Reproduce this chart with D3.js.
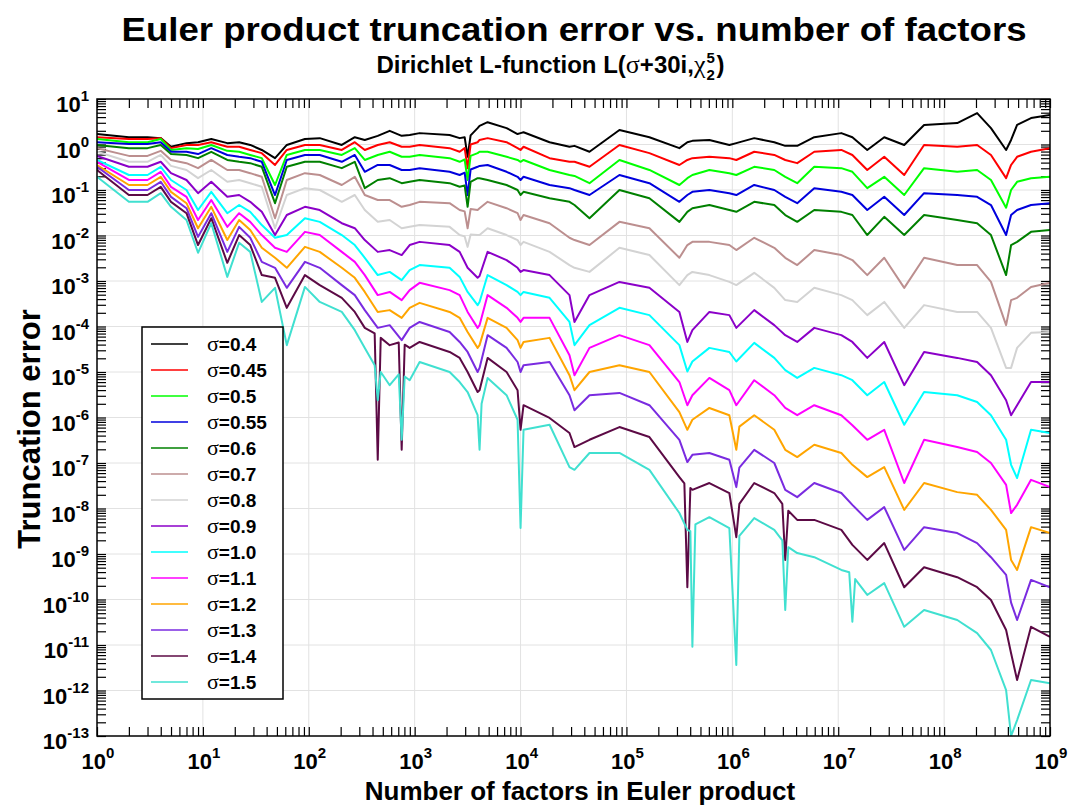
<!DOCTYPE html>
<html><head><meta charset="utf-8">
<script src="https://cdn.jsdelivr.net/npm/d3@7"></script>
<style>body{margin:0;background:#fff}svg{display:block}</style>
</head><body>
<svg id="c" width="1068" height="805"></svg>
<script>
// ---------- data ----------
const nFactors = [1,2,3,4,5,7,9,12,17,22, 28,36,48,62,92,127,205,272,338,448,
 581,754,897,1114,2138,2660,3162,3930,4100,4885, 7380,9370,10000,10670,18790,28980,32300,44770,85900,164800,
 316200,376000,419500,607000,937000,1090000,1610000,2490000,3160000,4100000,
 5940000,10700000,13600000,18800000,27200000,42000000,64700000,133000000,205000000,277000000,
 385000000,429000000,489000000,662000000,1000000000];

const sigmaLabels = ["0.4","0.45","0.5","0.55","0.6","0.7","0.8","0.9","1.0","1.1","1.2","1.3","1.4","1.5"];
const seriesColors = ["#000000","#ff0000","#00ff00","#0000dd","#008000","#bc8f8f","#d3d3d3","#8b00c8","#00ffff","#ff00ff","#ffa500","#7a2be0","#5c0a45","#40e0d0"];

// log10 of truncation error at nFactors
const err040 = [0.23,0.16,0.16,0.14,-0.05,0.03,0.05,0.12,0.03,0.05, -0.01,-0.12,-0.30,-0.01,0.12,0.14,-0.01,0.16,0.10,0.19, 0.30,0.19,0.21,0.25,0.21,0.14,-0.27,0.36,0.41,0.49, 0.36,0.23,0.25,0.27,0.05,-0.05,-0.03,-0.16,0.32,0.16, -0.08,0.05,0.08,0.10,-0.01,0.03,0.14,0.05,-0.03,-0.03, 0.16,0.25,0.16,-0.12,0.16,-0.01,0.43,0.47,0.69,0.36, -0.12,0.10,0.43,0.58,0.65];
const err045 = [0.16,0.12,0.12,0.14,-0.08,-0.01,-0.01,0.05,-0.05,-0.05, -0.12,-0.19,-0.45,-0.12,-0.01,-0.01,-0.12,0.05,-0.12,-0.01, 0.05,-0.05,-0.05,-0.01,-0.08,-0.16,-0.52,0.05,0.10,0.14, 0.05,-0.08,-0.12,-0.05,-0.30,-0.38,-0.38,-0.49,-0.01,-0.19, -0.45,-0.34,-0.30,-0.27,-0.30,-0.34,-0.16,-0.23,-0.34,-0.41, -0.16,-0.12,-0.23,-0.56,-0.27,-0.67,-0.01,-0.05,-0.01,-0.23, -0.74,-0.45,-0.27,-0.16,-0.08];
const err050 = [0.12,0.05,0.05,0.12,-0.12,-0.08,-0.10,-0.01,-0.14,-0.16, -0.23,-0.30,-0.89,-0.23,-0.12,-0.12,-0.23,-0.08,-0.34,-0.23, -0.16,-0.27,-0.27,-0.23,-0.30,-0.38,-0.78,-0.19,-0.16,-0.16, -0.27,-0.34,-0.38,-0.34,-0.56,-0.67,-0.69,-0.85,-0.34,-0.56, -0.89,-0.74,-0.67,-0.56,-0.63,-0.67,-0.49,-0.56,-0.71,-0.85, -0.49,-0.52,-0.60,-0.96,-0.71,-1.11,-0.52,-0.60,-0.56,-0.78, -1.39,-1.00,-0.82,-0.74,-0.71];
const err055 = [0.05,0.01,0.01,0.05,-0.16,-0.16,-0.21,-0.08,-0.23,-0.27, -0.30,-0.38,-1.11,-0.34,-0.23,-0.23,-0.38,-0.23,-0.60,-0.45, -0.45,-0.56,-0.56,-0.52,-0.60,-0.67,-1.11,-0.49,-0.47,-0.45, -0.60,-0.71,-0.78,-0.71,-0.89,-0.96,-1.00,-1.11,-0.67,-0.85, -1.26,-1.11,-1.04,-1.00,-1.07,-1.11,-0.89,-1.00,-1.15,-1.29, -0.96,-1.04,-1.11,-1.44,-1.15,-1.55,-1.07,-1.11,-1.15,-1.33, -1.99,-1.55,-1.44,-1.33,-1.29];
const err060 = [-0.01,-0.08,-0.08,-0.01,-0.21,-0.23,-0.30,-0.16,-0.34,-0.38, -0.41,-0.49,-1.29,-0.49,-0.38,-0.38,-0.52,-0.38,-0.96,-0.78, -0.74,-0.85,-0.82,-0.78,-0.85,-0.93,-1.37,-0.74,-0.74,-0.78, -0.89,-1.00,-1.11,-1.04,-1.18,-1.26,-1.33,-1.62,-1.00,-1.18, -1.70,-1.48,-1.40,-1.33,-1.44,-1.48,-1.26,-1.33,-1.55,-1.70, -1.44,-1.48,-1.55,-1.99,-1.59,-1.99,-1.55,-1.66,-1.73,-1.99, -2.87,-2.21,-2.14,-1.92,-1.88];
const err070 = [-0.08,-0.25,-0.25,-0.14,-0.34,-0.41,-0.52,-0.34,-0.56,-0.56, -0.63,-0.71,-1.62,-0.78,-0.63,-0.67,-0.89,-0.71,-1.11,-1.22, -1.22,-1.37,-1.33,-1.26,-1.29,-1.44,-1.84,-1.44,-1.40,-1.26, -1.40,-1.51,-1.66,-1.55,-1.73,-2.05,-2.10,-2.21,-1.70,-1.84, -2.49,-2.21,-2.14,-2.14,-2.21,-2.32,-2.05,-2.27,-2.49,-2.65, -2.32,-2.43,-2.54,-2.87,-2.49,-3.15,-2.49,-2.65,-2.65,-3.02, -3.97,-3.42,-3.37,-3.13,-3.04];
const err080 = [-0.16,-0.38,-0.38,-0.23,-0.47,-0.56,-0.74,-0.56,-0.82,-0.78, -0.85,-0.93,-1.84,-1.11,-0.96,-1.00,-1.26,-1.11,-1.44,-1.70, -1.66,-1.84,-1.81,-1.77,-1.81,-1.99,-2.25,-1.99,-1.99,-1.84, -1.99,-2.10,-2.21,-2.14,-2.36,-2.65,-2.71,-2.80,-2.27,-2.43, -3.09,-2.87,-2.80,-2.87,-3.02,-3.09,-2.82,-3.15,-3.42,-3.46, -3.15,-3.31,-3.42,-3.75,-3.46,-4.03,-3.53,-3.68,-3.68,-4.03, -4.91,-4.91,-4.47,-4.14,-4.12];
const err090 = [-0.25,-0.49,-0.49,-0.38,-0.63,-0.78,-1.07,-0.82,-1.15,-1.11, -1.26,-1.48,-1.99,-1.55,-1.37,-1.44,-1.73,-1.84,-2.10,-2.36, -2.32,-2.43,-2.21,-2.14,-2.21,-2.36,-2.71,-2.93,-2.89,-2.36, -2.54,-2.71,-2.80,-2.76,-2.87,-3.31,-3.90,-3.31,-3.02,-3.15, -3.68,-4.34,-4.08,-3.68,-3.75,-4.03,-3.64,-3.97,-4.19,-4.34, -4.03,-4.19,-4.34,-4.69,-4.34,-5.29,-4.56,-4.69,-4.78,-5.07, -5.62,-5.95,-5.73,-5.22,-5.22];
const err100 = [-0.34,-0.67,-0.67,-0.49,-0.78,-1.00,-1.44,-1.04,-1.51,-1.33, -1.48,-1.77,-2.05,-1.99,-1.62,-1.70,-1.99,-2.21,-2.49,-2.87, -2.80,-2.98,-2.76,-2.65,-2.71,-2.91,-3.24,-3.53,-3.46,-2.87, -3.09,-3.24,-3.31,-3.24,-3.37,-3.90,-4.41,-3.97,-3.59,-3.75, -4.41,-4.99,-4.77,-4.47,-4.56,-4.77,-4.36,-4.69,-4.96,-5.13, -4.91,-5.07,-5.18,-5.51,-5.22,-6.16,-5.44,-5.51,-5.66,-5.95, -6.49,-7.04,-7.33,-6.27,-6.34];
const err110 = [-0.38,-0.78,-0.78,-0.60,-0.93,-1.15,-1.66,-1.22,-1.81,-1.51, -1.70,-1.99,-2.27,-2.36,-1.92,-1.99,-2.36,-2.58,-2.87,-3.31, -3.24,-3.42,-3.20,-3.04,-3.20,-3.31,-3.68,-4.03,-3.97,-3.31, -3.59,-3.81,-3.90,-3.81,-3.81,-4.63,-5.07,-4.47,-4.19,-4.41, -5.22,-5.73,-5.51,-5.13,-5.40,-5.73,-5.18,-5.51,-5.79,-5.95, -5.73,-5.95,-6.17,-6.49,-6.27,-7.44,-6.49,-6.65,-6.76,-7.00, -7.48,-8.10,-7.92,-7.37,-7.53];
const err120 = [-0.45,-0.89,-0.89,-0.71,-1.04,-1.29,-1.84,-1.37,-2.10,-1.66, -1.88,-2.27,-2.49,-2.71,-2.25,-2.36,-2.71,-2.93,-3.24,-3.68, -3.64,-3.81,-3.59,-3.48,-3.68,-3.81,-4.12,-4.47,-4.41,-3.81, -4.03,-4.30,-4.47,-4.34,-4.25,-5.07,-5.40,-5.00,-4.85,-5.00, -5.88,-6.27,-6.05,-5.79,-5.95,-6.71,-5.95,-6.27,-6.71,-6.87, -6.60,-6.78,-7.04,-7.31,-7.09,-8.03,-7.44,-7.64,-7.70,-8.03, -8.47,-9.13,-9.35,-8.41,-8.54];
const err130 = [-0.49,-1.00,-1.00,-0.82,-1.15,-1.40,-2.03,-1.51,-2.36,-1.81, -2.05,-2.58,-2.71,-3.15,-2.58,-2.71,-3.09,-3.31,-3.64,-4.03, -3.97,-4.30,-4.03,-3.90,-4.12,-4.34,-4.56,-5.00,-4.91,-4.19, -4.47,-4.78,-5.00,-4.85,-4.78,-5.51,-5.84,-5.51,-5.46,-5.73, -6.49,-6.98,-6.82,-6.78,-6.93,-7.53,-6.71,-7.00,-7.59,-7.75, -7.44,-7.66,-7.92,-8.25,-7.97,-8.91,-8.41,-8.54,-8.76,-9.07, -9.46,-10.07,-10.45,-9.57,-9.73];
const err140 = [-0.56,-1.11,-1.11,-0.93,-1.26,-1.51,-2.21,-1.62,-2.60,-1.99, -2.21,-2.87,-2.93,-3.59,-2.87,-3.09,-3.37,-3.68,-4.03,-6.93, -4.41,-6.71,-4.47,-4.34,-4.56,-4.69,-5.00,-5.44,-5.40,-4.69, -5.00,-5.40,-6.27,-5.73,-6.01,-6.34,-6.65,-6.49,-6.21,-6.43, -7.31,-9.73,-7.59,-7.44,-7.66,-8.63,-7.44,-7.66,-9.13,-8.25, -8.25,-8.47,-8.80,-9.13,-8.76,-9.73,-9.29,-9.51,-9.73,-10.01, -10.67,-11.18,-11.77,-10.60,-10.82];
const err150 = [-0.71,-1.26,-1.26,-1.07,-1.37,-1.66,-2.38,-1.73,-2.91,-2.16, -2.36,-3.46,-3.15,-4.41,-3.13,-3.46,-3.68,-4.08,-4.47,-5.62, -5.29,-6.49,-5.18,-4.78,-5.00,-5.22,-5.44,-5.95,-6.71,-5.13, -5.51,-6.05,-8.43,-6.27,-6.16,-7.09,-7.15,-6.78,-6.78,-7.15, -8.10,-8.47,-11.04,-8.19,-8.43,-11.44,-8.21,-8.47,-10.23,-8.98, -9.07,-9.35,-10.49,-9.90,-9.64,-10.60,-10.23,-10.45,-10.74,-11.11, -11.99,-13.0,-12.65,-11.77,-11.84];

// extra [nFactors, log10 error] readings on both sides of narrow dips/spikes
const extra040 = [[2965,0.16],[3376,0.20]];
const extra045 = [[2965,-0.08],[3376,0.00]];
const extra050 = [[2965,-0.33],[3376,-0.25]];
const extra055 = [[2965,-0.62],[3376,-0.55]];
const extra060 = [[2965,-0.90],[3376,-0.82]];
const extra070 = [[2965,-1.47],[3376,-1.42]];
const extra080 = [[2965,-2.02],[3376,-1.98]];
const extra090 = [];
const extra100 = [];
const extra110 = [];
const extra120 = [[1165000,-6.20]];
const extra130 = [[1165000,-7.10]];
const extra140 = [[419,-4.15],[478,-4.25],[707,-4.35],[805,-4.40],[352400,-7.45],[401500,-7.55],[1165000,-7.90],[2965000,-7.90],[3376000,-8.05]];
const extra150 = [[419,-4.85],[478,-5.00],[707,-5.05],[805,-5.10],[4285,-5.70],[401500,-8.50],[447700,-8.35],[1165000,-8.60],[2965000,-8.70],[3376000,-8.85],[12700000,-9.40],[14460000,-9.55]];

const seriesValues = [err040,err045,err050,err055,err060,err070,err080,err090,err100,err110,err120,err130,err140,err150];
const seriesExtra = [extra040,extra045,extra050,extra055,extra060,extra070,extra080,extra090,extra100,extra110,extra120,extra130,extra140,extra150];

const xTickExponents = [0,1,2,3,4,5,6,7,8,9];
const yTickExponents = [1,0,-1,-2,-3,-4,-5,-6,-7,-8,-9,-10,-11,-12,-13];

// ---------- drawing ----------
const FONT = "'Liberation Sans', Arial, Helvetica, sans-serif";
const SERIF = "'Liberation Serif', 'DejaVu Serif', serif";
const svg = d3.select("#c");
const L = 97, R = 1050, T = 99, B = 736;
const x = d3.scaleLog().domain([1, 1e9]).range([L, R]);
const y = d3.scaleLog().domain([1e-13, 10]).range([B, T]);

svg.append("rect").attr("width",1068).attr("height",805).attr("fill","#fff");

// grid
const g = svg.append("g");
g.selectAll(".gx").data(xTickExponents.slice(1,-1)).join("line")
  .attr("x1",d=>x(10**d)).attr("x2",d=>x(10**d)).attr("y1",T).attr("y2",B)
  .attr("stroke","#e2e2e2").attr("stroke-width",1);
g.selectAll(".gy").data(yTickExponents.slice(1,-1)).join("line")
  .attr("y1",d=>y(10**d)).attr("y2",d=>y(10**d)).attr("x1",L).attr("x2",R)
  .attr("stroke","#e2e2e2").attr("stroke-width",1);

// ticks (all four sides, inward)
function minorTicks(lo, hi){ const t=[]; for(let e=lo;e<hi;e++){ for(let k=1;k<=9;k++) t.push(k*10**e);} t.push(10**hi); return t; }
const xt = minorTicks(0,9), yt = minorTicks(-13,1);
const TL = 9;
svg.append("g").attr("transform",`translate(0,${B})`).call(d3.axisBottom(x).tickValues(xt).tickSize(-TL).tickFormat("")).call(s=>s.select(".domain").remove());
svg.append("g").attr("transform",`translate(0,${T})`).call(d3.axisTop(x).tickValues(xt).tickSize(-TL).tickFormat("")).call(s=>s.select(".domain").remove());
svg.append("g").attr("transform",`translate(${L},0)`).call(d3.axisLeft(y).tickValues(yt).tickSize(-TL).tickFormat("")).call(s=>s.select(".domain").remove());
svg.append("g").attr("transform",`translate(${R},0)`).call(d3.axisRight(y).tickValues(yt).tickSize(-TL).tickFormat("")).call(s=>s.select(".domain").remove());
svg.selectAll(".tick line").attr("stroke","#000").attr("stroke-width",1.2);

// series
svg.append("clipPath").attr("id","clip").append("rect").attr("x",L).attr("y",T).attr("width",R-L).attr("height",B-T);
const line = d3.line().x(d=>x(d[0])).y(d=>y(10**d[1]));
const lg = svg.append("g").attr("clip-path","url(#clip)");
seriesValues.forEach((vals,i)=>{
  const pts = nFactors.map((n,j)=>[n, vals[j]]).concat(seriesExtra[i]).sort((a,b)=>a[0]-b[0]);
  lg.append("path").attr("d",line(pts)).attr("fill","none")
    .attr("stroke",seriesColors[i]).attr("stroke-width",2).attr("stroke-linejoin","round");
});

// frame
svg.append("rect").attr("x",L).attr("y",T).attr("width",R-L).attr("height",B-T)
  .attr("fill","none").attr("stroke","#000").attr("stroke-width",1.5);

// tick labels
const yl = svg.append("g").attr("font-family",FONT).attr("font-weight","bold");
yTickExponents.forEach(e=>{
  const t = yl.append("text").attr("x",89).attr("y",y(10**e)+13).attr("text-anchor","end").attr("font-size",22);
  t.append("tspan").text("10");
  t.append("tspan").attr("font-size",15).attr("dy",-11).text(e<0?"-"+(-e):String(e));
});
xTickExponents.forEach(e=>{
  const t = yl.append("text").attr("x",x(10**e)+1).attr("y",769).attr("text-anchor","middle").attr("font-size",22);
  t.append("tspan").text("10");
  t.append("tspan").attr("font-size",15).attr("dy",-11).text(String(e));
});

// titles
const tt = svg.append("g").attr("font-family",FONT).attr("font-weight","bold").attr("fill","#000");
tt.append("text").attr("x",574).attr("y",41).attr("text-anchor","middle").attr("font-size",34)
  .attr("textLength",905).attr("lengthAdjust","spacingAndGlyphs")
  .text("Euler product truncation error vs. number of factors");

const sub = tt.append("text").attr("y",73).attr("font-size",24);
sub.append("tspan").text("Dirichlet L-function L(");
sub.append("tspan").attr("font-family",SERIF).attr("font-weight","normal").attr("font-size",26).text("σ");
sub.append("tspan").text("+30i,");
sub.append("tspan").attr("font-family",SERIF).attr("font-weight","normal").attr("font-size",26).text("χ");
const subW = sub.node().getComputedTextLength();
const supT = tt.append("text").attr("y",63).attr("font-size",15).text("5");
const subT = tt.append("text").attr("y",80).attr("font-size",15).text("2");
const closeT = tt.append("text").attr("y",73).attr("font-size",24).text(")");
const scriptW = 10, closeW = closeT.node().getComputedTextLength();
const totalW = subW + scriptW + closeW;
const sx0 = 550 - totalW/2;
sub.attr("x",sx0);
supT.attr("x",sx0+subW+1);
subT.attr("x",sx0+subW+1);
closeT.attr("x",sx0+subW+scriptW+1);

tt.append("text").attr("x",580).attr("y",799.5).attr("text-anchor","middle").attr("font-size",26)
  .text("Number of factors in Euler product");
tt.append("text").attr("transform","translate(40,429) rotate(-90)").attr("text-anchor","middle").attr("font-size",31)
  .text("Truncation error");

// legend
const leg = svg.append("g");
leg.append("rect").attr("x",142).attr("y",327).attr("width",141).attr("height",372)
  .attr("fill","#fff").attr("stroke","#000").attr("stroke-width",1.5);
sigmaLabels.forEach((s,i)=>{
  const cy = 344 + i*26;
  leg.append("line").attr("x1",151).attr("x2",188).attr("y1",cy).attr("y2",cy)
    .attr("stroke",seriesColors[i]).attr("stroke-width",1.3);
  const t = leg.append("text").attr("x",207).attr("y",cy+7).attr("font-family",FONT).attr("font-weight","bold").attr("font-size",19);
  t.append("tspan").attr("font-family",SERIF).attr("font-weight","normal").attr("font-size",22).text("σ");
  t.append("tspan").text("="+s);
});
</script>
</body></html>
